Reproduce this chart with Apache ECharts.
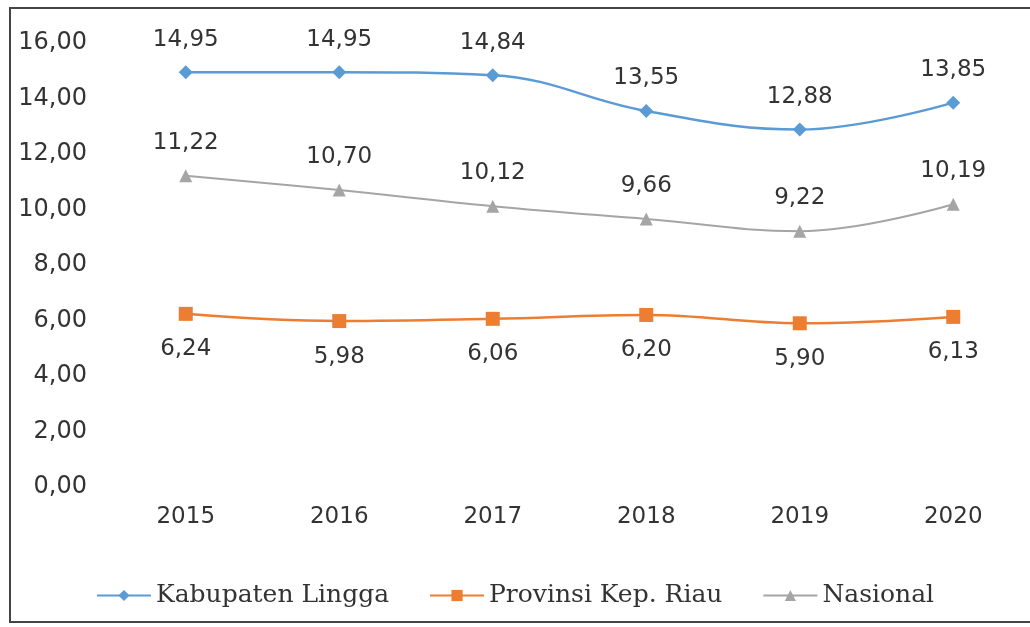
<!DOCTYPE html>
<html>
<head>
<meta charset="utf-8">
<script src="https://cdn.jsdelivr.net/npm/echarts@6/dist/echarts.min.js"></script>
<style>
  html, body { margin: 0; padding: 0; background: #fff; }
  #chart1 { width: 1030px; height: 627px; }
</style>
</head>
<body>
<div id="chart1"></div>
<script>
// data
var years = ['2015', '2016', '2017', '2018', '2019', '2020'];
var lingga = [14.95, 14.95, 14.84, 13.55, 12.88, 13.85];
var riau = [6.24, 5.98, 6.06, 6.20, 5.90, 6.13];
var nasional = [11.22, 10.70, 10.12, 9.66, 9.22, 10.19];
var seriesNames = ['Kabupaten Lingga', 'Provinsi Kep. Riau', 'Nasional'];

// comma as decimal separator
function fmt(v) {
    return v.toFixed(2).replace('.', ',');
}

var myChart = {
    init: function () {
        var labelFont = { fontFamily: 'DejaVu Sans', fontSize: 23, color: '#333' };
        var option = {
            animation: false,
            color: ['#5b9bd5', '#ed7d31', '#a5a5a5'],
            graphic: [{
                type: 'rect',
                shape: { x: 10, y: 8, width: 1030, height: 614 },
                style: { fill: 'none', stroke: '#444', lineWidth: 2 }
            }],
            legend: {
                data: seriesNames,
                left: 'center',
                top: 578,
                itemWidth: 54,
                itemHeight: 14,
                itemGap: 40,
                textStyle: { fontFamily: 'DejaVu Serif', fontSize: 25, color: '#333' }
            },
            grid: {
                left: 109,
                width: 925,
                top: 43,
                height: 444
            },
            xAxis: {
                type: 'category',
                data: years,
                axisLine: { show: false },
                axisTick: { show: false },
                axisLabel: {
                    margin: 19,
                    fontFamily: 'DejaVu Sans',
                    fontSize: 23,
                    color: '#333'
                }
            },
            yAxis: {
                type: 'value',
                min: 0,
                max: 16,
                interval: 2,
                splitLine: { show: false },
                axisLine: { show: false },
                axisTick: { show: false },
                axisLabel: {
                    margin: 22,
                    fontFamily: 'DejaVu Sans',
                    fontSize: 24,
                    color: '#333',
                    formatter: function (v) { return fmt(v); }
                }
            },
            series: [
                {
                    name: seriesNames[0],
                    type: 'line',
                    smooth: 0.4,
                    data: lingga,
                    symbol: 'diamond',
                    symbolSize: 14,
                    lineStyle: { width: 2.5 },
                    label: {
                        show: true,
                        position: 'top',
                        distance: 14,
                        fontFamily: labelFont.fontFamily,
                        fontSize: labelFont.fontSize,
                        color: labelFont.color,
                        formatter: function (p) { return fmt(p.value); }
                    }
                },
                {
                    name: seriesNames[1],
                    type: 'line',
                    smooth: 0.4,
                    data: riau,
                    symbol: 'rect',
                    symbolSize: 14,
                    lineStyle: { width: 2.5 },
                    label: {
                        show: true,
                        position: 'bottom',
                        distance: 17,
                        fontFamily: labelFont.fontFamily,
                        fontSize: labelFont.fontSize,
                        color: labelFont.color,
                        formatter: function (p) { return fmt(p.value); }
                    }
                },
                {
                    name: seriesNames[2],
                    type: 'line',
                    smooth: 0.4,
                    data: nasional,
                    symbol: 'triangle',
                    symbolSize: 13,
                    lineStyle: { width: 2 },
                    label: {
                        show: true,
                        position: 'top',
                        distance: 15,
                        fontFamily: labelFont.fontFamily,
                        fontSize: labelFont.fontSize,
                        color: labelFont.color,
                        formatter: function (p) { return fmt(p.value); }
                    }
                }
            ]
        };
        var chart = echarts.init(document.getElementById('chart1'));
        chart.setOption(option);
        return chart;
    }
};

var chartObj = myChart.init();
</script>
</body>
</html>
